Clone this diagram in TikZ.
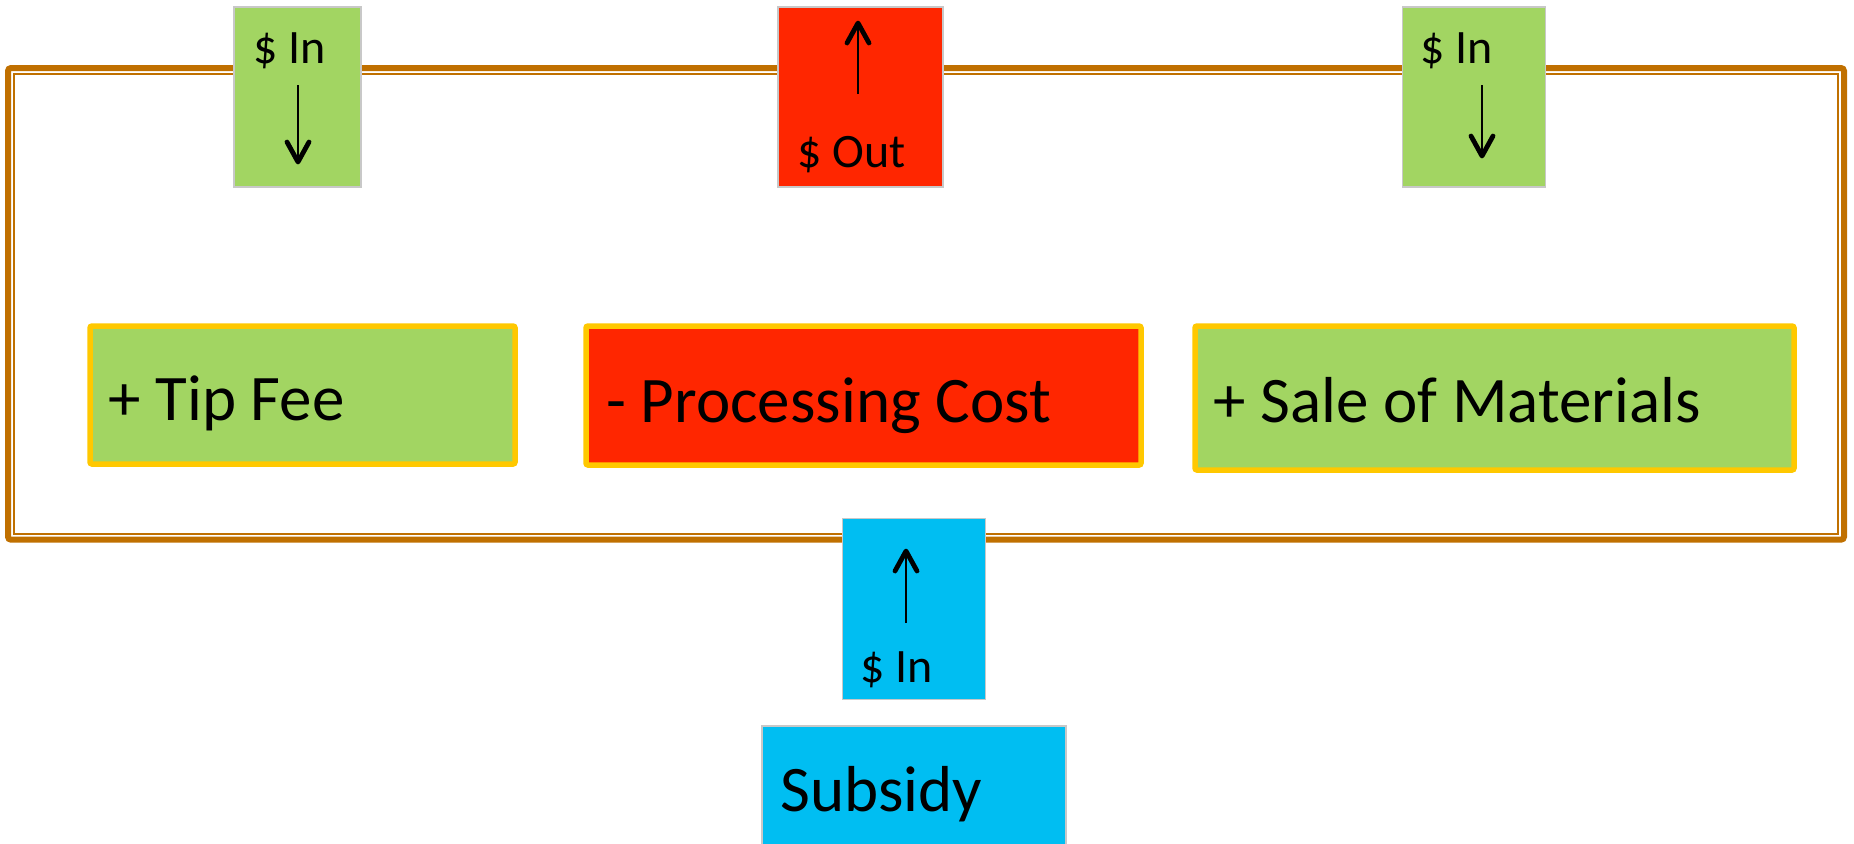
\documentclass[tikz,border=0pt]{standalone}
\usepackage{fontspec}
\setmainfont{Carlito}
\definecolor{cgreen}{HTML}{A2D562}
\definecolor{cred}{HTML}{FF2600}
\definecolor{cblue}{HTML}{00BEF2}
\definecolor{cyel}{HTML}{FFC800}
\definecolor{cbrown}{HTML}{C07000}
\definecolor{cgrey}{HTML}{C8C8C8}
\tikzset{
  smallbox/.style={draw=cgrey, line width=0.75pt, inner sep=0pt, rectangle},
  bigbox/.style={draw=cyel, line width=2.75pt, rounded corners=1pt, inner sep=0pt, rectangle},
  bigtxt/.style={anchor=base west, inner sep=0pt, font=\fontsize{32.5}{38}\selectfont},
  smalltxt/.style={anchor=base west, inner sep=0pt, font=\fontsize{24}{28}\selectfont},
  shaft/.style={draw=black, line width=0.75pt},
  barb/.style={draw=black, line width=2.4pt, line cap=round, line join=round},
}
\begin{document}
\begin{tikzpicture}[x=0.5pt,y=-0.5pt]
\useasboundingbox (0,0) rectangle (1854,843);
\clip (0,0) rectangle (1854,843);
% frame
\draw[cbrown, line width=3pt, rounded corners=1.5pt] (8,68) rectangle (1844,539.7);
\draw[cbrown, line width=1pt] (13.8,73.8) rectangle (1837.7,533.7);
% big boxes
\node[bigbox, fill=cgreen, minimum width=425pt*0.5, minimum height=138pt*0.5] (tip) at (302.5,395) {};
\node[bigbox, fill=cred, minimum width=555pt*0.5, minimum height=139pt*0.5] (proc) at (863.5,395.5) {};
\node[bigbox, fill=cgreen, minimum width=599pt*0.5, minimum height=144pt*0.5] (sale) at (1494.5,398) {};
\node[bigtxt] (tipt) at (108,420) {+ Tip Fee};
\node[bigtxt] (proct) at (606,422) {- Processing Cost};
\node[bigtxt] (salet) at (1213,422) {+ Sale of Materials};
% small boxes
\node[smallbox, fill=cgreen, minimum width=127pt*0.5, minimum height=180pt*0.5] (in1) at (297.5,97) {};
\node[smallbox, fill=cred, minimum width=165pt*0.5, minimum height=180pt*0.5] (out) at (860.5,97) {};
\node[smallbox, fill=cgreen, minimum width=143pt*0.5, minimum height=180pt*0.5] (in2) at (1474,97) {};
\node[smallbox, fill=cblue, minimum width=143pt*0.5, minimum height=181pt*0.5] (in3) at (914,609) {};
\node[smallbox, fill=cblue, minimum width=304pt*0.5, minimum height=130pt*0.5] (sub) at (914,791) {};
\node[smalltxt] (in1t) at (253,63) {\$ In};
\node[smalltxt] (outt) at (797,167) {\$ Out};
\node[smalltxt] (in2t) at (1420,63) {\$ In};
\node[smalltxt] (in3t) at (860,682) {\$ In};
\node[bigtxt] (subt) at (780,811) {Subsidy};
% arrows
\coordinate (a1s) at (298,85); \coordinate (a1e) at (298,162);
\draw[shaft] (a1s) -- (a1e);
\draw[barb] (287,142) -- (a1e) -- (309,142);
\coordinate (a2s) at (858,94); \coordinate (a2e) at (858,23);
\draw[shaft] (a2s) -- (a2e);
\draw[barb] (847,43) -- (a2e) -- (869,43);
\coordinate (a3s) at (1482,85); \coordinate (a3e) at (1482,156);
\draw[shaft] (a3s) -- (a3e);
\draw[barb] (1471,136) -- (a3e) -- (1493,136);
\coordinate (a4s) at (906,623); \coordinate (a4e) at (906,551);
\draw[shaft] (a4s) -- (a4e);
\draw[barb] (895,571) -- (a4e) -- (917,571);
\end{tikzpicture}
\end{document}
